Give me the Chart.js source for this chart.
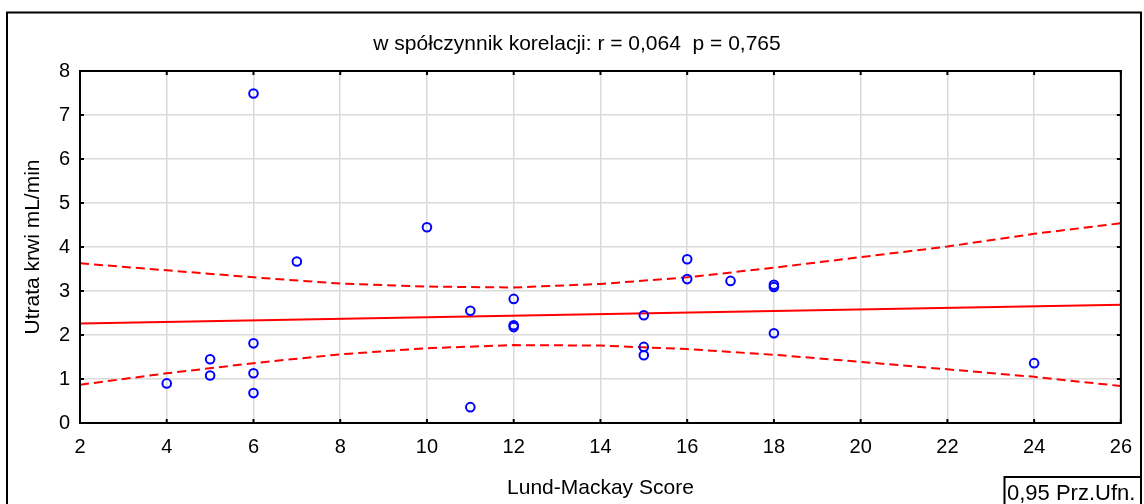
<!DOCTYPE html>
<html>
<head>
<meta charset="utf-8">
<script src="https://cdn.jsdelivr.net/npm/chart.js@4.4.1/dist/chart.umd.min.js"></script>
<style>
  html, body { margin: 0; padding: 0; background: #fff; }
  #wrap { position: relative; width: 1144px; height: 504px; }
</style>
</head>
<body>
<div id="wrap"><canvas id="c" width="1144" height="504"></canvas></div>
<script>
// Lund-Mackay score vs. blood loss (mL/min), one entry per patient
const scoreX = [4, 5, 5, 6, 6, 6, 6, 7, 10, 11, 11, 12, 12, 12, 15, 15, 15, 16, 16, 17, 18, 18, 18, 24];
const bloodLossY = [0.90, 1.45, 1.08, 7.49, 1.81, 1.13, 0.68, 3.67, 4.45, 2.55, 0.36, 2.82, 2.22, 2.18,
                    2.45, 1.73, 1.54, 3.72, 3.27, 3.23, 3.14, 3.09, 2.04, 1.36];

// fitted regression line (end points)
const fitX = [2, 26];
const fitY = [2.26, 2.69];

// 95% confidence band
const bandX = [2, 4, 6, 8, 10, 12, 14, 16, 18, 20, 22, 24, 26];
const bandUpper = [3.63, 3.47, 3.31, 3.17, 3.10, 3.08, 3.16, 3.31, 3.53, 3.77, 4.01, 4.30, 4.54];
const bandLower = [0.87, 1.13, 1.36, 1.56, 1.70, 1.77, 1.76, 1.68, 1.55, 1.39, 1.22, 1.05, 0.84];

const xTicks = [2, 4, 6, 8, 10, 12, 14, 16, 18, 20, 22, 24, 26];
const yTicks = [0, 1, 2, 3, 4, 5, 6, 7, 8];

const titleText = 'w spółczynnik korelacji: r = 0,064  p = 0,765';
const xTitle = 'Lund-Mackay Score';
const yTitle = 'Utrata krwi mL/min';
const legendText = '0,95 Prz.Ufn.';

const FONT = '"Liberation Sans", Arial, sans-serif';

const pairs = (xs, ys) => xs.map((x, i) => ({ x, y: ys[i] }));

// outer frame, plot border with inward ticks, and the confidence-level box
const framePlugin = {
  id: 'frame',
  afterDraw(chart) {
    const ctx = chart.ctx;
    const a = chart.chartArea;
    const xs = chart.scales.x, ys = chart.scales.y;
    ctx.save();
    ctx.strokeStyle = '#000';
    ctx.lineWidth = 2;
    ctx.strokeRect(7, 12.5, 1134, 520);
    ctx.strokeRect(a.left, a.top, a.right - a.left, a.bottom - a.top);
    const t = 4;
    ctx.beginPath();
    xTicks.forEach(v => {
      const p = xs.getPixelForValue(v);
      ctx.moveTo(p, a.top); ctx.lineTo(p, a.top + t);
      ctx.moveTo(p, a.bottom); ctx.lineTo(p, a.bottom - t);
    });
    yTicks.forEach(v => {
      const p = ys.getPixelForValue(v);
      ctx.moveTo(a.left, p); ctx.lineTo(a.left + t, p);
      ctx.moveTo(a.right, p); ctx.lineTo(a.right - t, p);
    });
    ctx.stroke();
    // confidence level label box
    ctx.fillStyle = '#fff';
    ctx.fillRect(1004.5, 477, 136, 30);
    ctx.strokeRect(1004.5, 477, 136.5, 40);
    ctx.fillStyle = '#000';
    ctx.font = '22px ' + FONT;
    ctx.textBaseline = 'alphabetic';
    ctx.textAlign = 'left';
    ctx.fillText(legendText, 1007, 500);
    ctx.restore();
  }
};

new Chart(document.getElementById('c'), {
  type: 'scatter',
  data: {
    datasets: [
      {
        data: pairs(scoreX, bloodLossY),
        pointStyle: 'circle',
        pointRadius: 4.3,
        pointBorderWidth: 2,
        borderColor: '#0000ff',
        backgroundColor: 'rgba(0,0,0,0)',
        order: 0
      },
      {
        data: pairs(fitX, fitY),
        showLine: true,
        borderColor: '#ff0000',
        borderWidth: 2,
        pointRadius: 0,
        order: 1
      },
      {
        data: pairs(bandX, bandUpper),
        showLine: true,
        borderColor: '#ff0000',
        borderWidth: 2,
        borderDash: [9, 5],
        pointRadius: 0,
        order: 1
      },
      {
        data: pairs(bandX, bandLower),
        showLine: true,
        borderColor: '#ff0000',
        borderWidth: 2,
        borderDash: [9, 5],
        pointRadius: 0,
        order: 1
      }
    ]
  },
  options: {
    responsive: false,
    animation: false,
    devicePixelRatio: 1,
    layout: { padding: { left: 10, right: 0, top: 0, bottom: 0 } },
    plugins: {
      legend: { display: false },
      tooltip: { enabled: false },
      title: {
        display: true,
        text: titleText,
        color: '#000',
        font: { family: FONT, size: 21, weight: 'normal' },
        padding: { top: 31.4, bottom: 14.4 }
      }
    },
    scales: {
      x: {
        type: 'linear',
        min: 2,
        max: 26,
        afterBuildTicks: s => { s.ticks = xTicks.map(v => ({ value: v })); },
        afterFit: s => { s.height = 81; },
        grid: { color: '#dadada', lineWidth: 1.5, drawTicks: false },
        border: { display: false },
        ticks: { color: '#000', padding: 12, font: { family: FONT, size: 20 } },
        title: {
          display: true, text: xTitle, color: '#000',
          font: { family: FONT, size: 21 }, padding: { top: 0, bottom: 3.4 }
        }
      },
      y: {
        type: 'linear',
        min: 0,
        max: 8,
        afterBuildTicks: s => { s.ticks = yTicks.map(v => ({ value: v })); },
        afterFit: s => { s.width = 70; },
        grid: { color: '#dadada', lineWidth: 1.5, drawTicks: false },
        border: { display: false },
        ticks: { color: '#000', padding: 10, font: { family: FONT, size: 20 } },
        title: {
          display: true, text: yTitle, color: '#000',
          font: { family: FONT, size: 21 }, padding: { top: 11, bottom: 0 }
        }
      },
      yRight: {
        type: 'linear',
        position: 'right',
        display: true,
        afterFit: s => { s.width = 21; },
        grid: { display: false },
        border: { display: false },
        ticks: { display: false }
      }
    }
  },
  plugins: [framePlugin]
});
</script>
</body>
</html>
